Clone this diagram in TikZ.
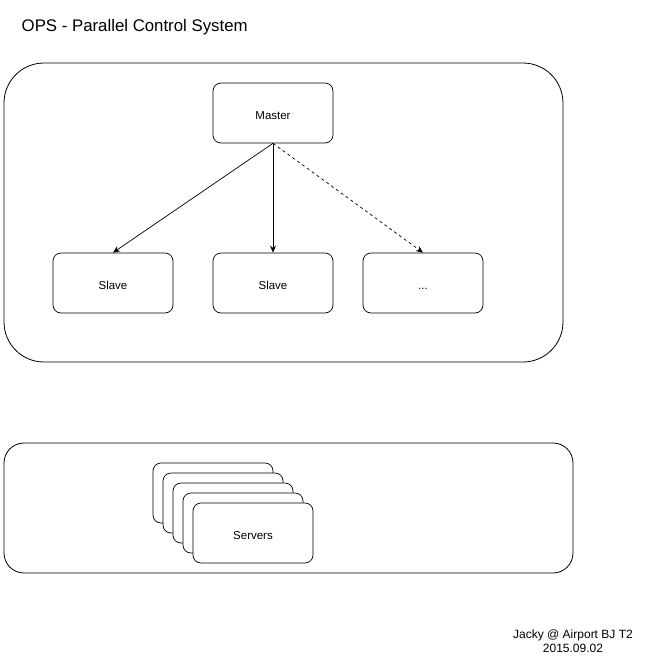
\documentclass[tikz,border=0pt]{standalone}
\usepackage{fontspec}
\setmainfont{Liberation Sans}
\usetikzlibrary{arrows.meta,positioning}

\begin{document}
\begin{tikzpicture}[x=1pt, y=-1pt, line width=0.7pt, >={Stealth[length=7pt,width=6pt]},
  box node/.style={rectangle,draw,rounded corners=8pt,minimum width=120pt,minimum height=60pt,inner sep=0pt,font=\fontsize{11.5}{13}\selectfont,fill=white,text height=12pt,text depth=0pt},
  group box/.style={draw,line width=0.8pt}]
\useasboundingbox (0,0) rectangle (645,665);
\node[anchor=west,font=\fontsize{16.8}{19}\selectfont] (title) at (18,27) {OPS - Parallel Control System};
% control system
\draw[group box,rounded corners=40pt] (4,63) rectangle (563,362);
\node[box node] (master) at (273,113) {Master};
\node[box node] (s1) at (113,283) {Slave};
\node[box node] (s2) at (273,283) {Slave};
\node[box node] (s3) at (423,283) {...};
\draw[->] (master.south) -- (s1.north);
\draw[->] (master.south) -- (s2.north);
\draw[->,dashed] (master.south) -- (s3.north);
% servers
\draw[group box,rounded corners=20pt] (4,443) rectangle (573,573);
\foreach \i in {0,...,3}
  \node[box node] (srv\i) at (213+10*\i,493+10*\i) {};
\node[box node] (servers) at (253,533) {Servers};
\node[font=\fontsize{12}{14}\selectfont,align=center] (credit) at (573,641) {Jacky @ Airport BJ T2\\2015.09.02};
\end{tikzpicture}
\end{document}
